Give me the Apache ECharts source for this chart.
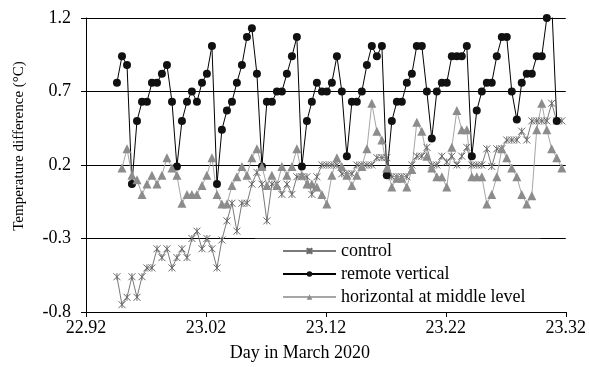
<!DOCTYPE html>
<html>
<head>
<meta charset="utf-8">
<script src="https://cdn.jsdelivr.net/npm/echarts@6/dist/echarts.min.js"></script>
<style>
html, body { margin: 0; padding: 0; background: #fff; }
#chart { width: 589px; height: 367px; }
</style>
</head>
<body>
<div id="chart"></div>
<script>
// readings every 6 minutes, day in March 2020
var days = [
  22.9458, 22.9500, 22.9542, 22.9583, 22.9625, 22.9667, 22.9708, 22.9750, 22.9792, 22.9833,
  22.9875, 22.9917, 22.9958, 23.0000, 23.0042, 23.0083, 23.0125, 23.0167, 23.0208, 23.0250,
  23.0292, 23.0333, 23.0375, 23.0417, 23.0458, 23.0500, 23.0542, 23.0583, 23.0625, 23.0667,
  23.0708, 23.0750, 23.0792, 23.0833, 23.0875, 23.0917, 23.0958, 23.1000, 23.1042, 23.1083,
  23.1125, 23.1167, 23.1208, 23.1250, 23.1292, 23.1333, 23.1375, 23.1417, 23.1458, 23.1500,
  23.1542, 23.1583, 23.1625, 23.1667, 23.1708, 23.1750, 23.1792, 23.1833, 23.1875, 23.1917,
  23.1958, 23.2000, 23.2042, 23.2083, 23.2125, 23.2167, 23.2208, 23.2250, 23.2292, 23.2333,
  23.2375, 23.2417, 23.2458, 23.2500, 23.2542, 23.2583, 23.2625, 23.2667, 23.2708, 23.2750,
  23.2792, 23.2833, 23.2875, 23.2917, 23.2958, 23.3000, 23.3042, 23.3083, 23.3125, 23.3167
];

var control = [
  -0.56, -0.75, -0.70, -0.56, -0.70, -0.56, -0.50, -0.50, -0.37, -0.43,
  -0.37, -0.50, -0.43, -0.37, -0.43, -0.30, -0.25, -0.37, -0.30, -0.37,
  -0.50, -0.31, -0.18, -0.06, -0.25, -0.06, -0.06, 0.07, 0.15, 0.07,
  -0.18, 0.07, 0.07, 0.00, 0.07, 0.00, 0.12, 0.12, 0.12, 0.00,
  0.12, 0.20, 0.20, 0.20, 0.20, 0.14, 0.14, 0.14, 0.20, 0.20,
  0.20, 0.20, 0.25, 0.25, 0.25, 0.12, 0.12, 0.12, 0.12, 0.20,
  0.26, 0.26, 0.32, 0.20, 0.20, 0.26, 0.22, 0.26, 0.20, 0.26,
  0.32, 0.20, 0.20, 0.20, 0.31, 0.19, 0.31, 0.31, 0.37, 0.37,
  0.37, 0.43, 0.37, 0.50, 0.50, 0.50, 0.50, 0.62, 0.50, 0.50
];

var remoteVertical = [
  0.76, 0.94, 0.88, 0.07, 0.50, 0.63, 0.63, 0.76, 0.76, 0.82,
  0.88, 0.63, 0.19, 0.50, 0.63, 0.70, 0.63, 0.76, 0.82, 1.01,
  0.07, 0.44, 0.57, 0.63, 0.76, 0.88, 1.07, 1.13, 0.82, 0.19,
  0.63, 0.63, 0.70, 0.70, 0.82, 0.94, 1.07, 0.19, 0.50, 0.63,
  0.76, 0.70, 0.70, 0.76, 0.94, 0.70, 0.26, 0.63, 0.63, 0.70,
  0.88, 1.01, 0.94, 1.01, 0.13, 0.50, 0.63, 0.63, 0.76, 0.82,
  1.01, 1.01, 0.70, 0.38, 0.70, 0.76, 0.76, 0.94, 0.94, 0.94,
  1.01, 0.26, 0.57, 0.70, 0.76, 0.76, 0.94, 1.07, 1.07, 0.70,
  0.51, 0.76, 0.82, 0.82, 0.94, 0.94, 1.20, 1.30, 0.50, null
];

var horizontalMid = [
  null, 0.18, 0.31, 0.13, 0.10, 0.00, 0.07, 0.13, 0.07, 0.13,
  0.25, 0.18, 0.13, -0.06, 0.00, 0.00, 0.00, 0.06, 0.13, 0.25,
  0.00, -0.065, -0.065, 0.06, 0.12, 0.19, 0.13, 0.25, 0.31, 0.19,
  0.06, 0.13, 0.06, 0.19, 0.13, 0.19, 0.31, 0.13, 0.07, 0.07,
  0.05, 0.00, -0.065, 0.13, 0.25, 0.19, 0.13, 0.06, 0.13, 0.19,
  0.31, 0.62, 0.43, 0.37, 0.18, 0.05, 0.11, 0.11, 0.05, 0.17,
  0.49, 0.43, 0.26, 0.18, 0.12, 0.12, 0.05, 0.32, 0.57, 0.44,
  0.44, 0.12, 0.12, 0.12, -0.065, 0.00, 0.12, 0.31, 0.25, 0.18,
  0.12, 0.00, -0.065, -0.01, 0.44, 0.62, 0.44, 0.31, 0.25, 0.18
];

var seriesNames = ['control', 'remote vertical', 'horizontal at middle level'];

function pairs(vals) {
  var out = [];
  for (var i = 0; i < vals.length; i++) {
    if (vals[i] !== null) out.push([days[i], vals[i]]);
  }
  return out;
}

var font = 'Liberation Serif';
var myChart = echarts.init(document.getElementById('chart'));

var option = {
  animation: false,
  backgroundColor: '#fff',
  grid: { left: 86, right: 21, top: 18, bottom: 53 },
  xAxis: {
    type: 'value',
    min: 22.92,
    max: 23.32,
    interval: 0.1,
    name: 'Day in March 2020',
    nameLocation: 'middle',
    nameGap: 32,
    nameTextStyle: { fontFamily: font, fontSize: 18, color: '#000', padding: [0, 52, 0, 0] },
    axisLine: { onZero: false, lineStyle: { color: '#000', width: 1 } },
    axisTick: { length: 5, lineStyle: { color: '#000' } },
    axisLabel: {
      fontFamily: font, fontSize: 18, color: '#000', margin: 7,
      formatter: function (v) { return v.toFixed(2); }
    },
    splitLine: { show: false }
  },
  yAxis: {
    type: 'value',
    min: -0.8,
    max: 1.2,
    interval: 0.5,
    name: 'Temperature difference (°C)',
    nameLocation: 'middle',
    nameGap: 59,
    nameTextStyle: { fontFamily: font, fontSize: 15, color: '#000', padding: [0, 0, 0, 38] },
    axisLine: { show: true, onZero: false, lineStyle: { color: '#000', width: 1 } },
    axisTick: { show: true, length: 5, lineStyle: { color: '#000' } },
    axisLabel: {
      fontFamily: font, fontSize: 18, color: '#000', margin: 15,
      formatter: function (v) { return v.toFixed(1); }
    },
    splitLine: { show: true, lineStyle: { color: '#000', width: 1 } }
  },
  legend: {
    orient: 'vertical',
    left: 255,
    top: 237,
    padding: [5, 15, 6, 27],
    backgroundColor: 'rgba(255,255,255,0.2)',
    itemWidth: 53,
    itemHeight: 7,
    itemGap: 5,
    textStyle: { fontFamily: font, fontSize: 18, color: '#000' },
    data: seriesNames
  },
  series: [
    {
      name: seriesNames[0],
      type: 'line',
      data: pairs(control),
      symbol: 'path://M0,0L10,10M10,0L0,10M5,0L5,10',
      symbolSize: 7,
      lineStyle: { color: '#7a7a7a', width: 1 },
      itemStyle: { color: '#6a6a6a', borderColor: '#6a6a6a', borderWidth: 1 }
    },
    {
      name: seriesNames[1],
      type: 'line',
      data: pairs(remoteVertical),
      symbol: 'circle',
      symbolSize: 8,
      lineStyle: { color: '#000', width: 1 },
      itemStyle: { color: '#111' }
    },
    {
      name: seriesNames[2],
      type: 'line',
      data: pairs(horizontalMid),
      symbol: 'triangle',
      symbolSize: 9,
      lineStyle: { color: '#a6a6a6', width: 1 },
      itemStyle: { color: '#8c8c8c' }
    }
  ]
};

myChart.setOption(option);
</script>
</body>
</html>
